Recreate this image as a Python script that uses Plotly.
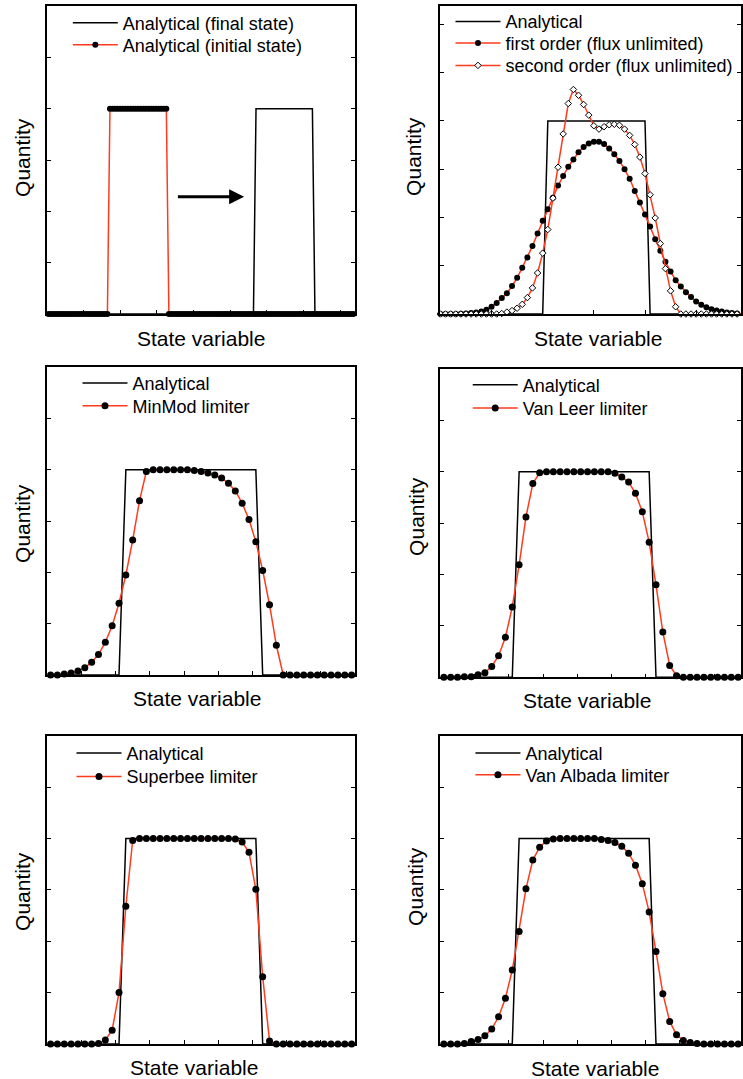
import plotly.graph_objects as go

W, H = 743, 1079
RED = "rgb(255,59,30)"
FONT = "Liberation Sans, Arial, Helvetica, sans-serif"

# ---------------- data ----------------
# Panel 1: analytical initial / final state on a fine grid
P1_X0, P1_DX = 0.035, 0.07
P1_INITIAL = [
    0, 0, 0, 0, 0, 0, 0, 0, 0, 0, 0, 0, 0, 0, 0, 0, 0, 0, 0, 0,
    0, 0, 0, 0, 4, 4, 4, 4, 4, 4, 4, 4, 4, 4, 4, 4, 4, 4, 4, 4,
    4, 4, 4, 4, 4, 4, 4, 0, 0, 0, 0, 0, 0, 0, 0, 0, 0, 0, 0, 0,
    0, 0, 0, 0, 0, 0, 0, 0, 0, 0, 0, 0, 0, 0, 0, 0, 0, 0, 0, 0,
    0, 0, 0, 0, 0, 0, 0, 0, 0, 0, 0, 0, 0, 0, 0, 0, 0, 0, 0, 0,
    0, 0, 0, 0, 0, 0, 0, 0, 0, 0, 0, 0, 0, 0, 0, 0, 0, 0, 0, 0,
]
P1_FINAL = [
    0, 0, 0, 0, 0, 0, 0, 0, 0, 0, 0, 0, 0, 0, 0, 0, 0, 0, 0, 0,
    0, 0, 0, 0, 0, 0, 0, 0, 0, 0, 0, 0, 0, 0, 0, 0, 0, 0, 0, 0,
    0, 0, 0, 0, 0, 0, 0, 0, 0, 0, 0, 0, 0, 0, 0, 0, 0, 0, 0, 0,
    0, 0, 0, 0, 0, 0, 0, 0, 0, 0, 0, 0, 0, 0, 0, 0, 0, 0, 0, 0,
    0, 4, 4, 4, 4, 4, 4, 4, 4, 4, 4, 4, 4, 4, 4, 4, 4, 4, 4, 4,
    4, 4, 4, 4, 0, 0, 0, 0, 0, 0, 0, 0, 0, 0, 0, 0, 0, 0, 0, 0,
]

# Panel 2: flux unlimited schemes
P2_X0, P2_DX = 0.0, 0.1
P2_ANALYTICAL = [
    0, 0, 0, 0, 0, 0, 0, 0, 0, 0, 0, 0, 0, 0, 0, 0, 0, 0, 0, 0,
    0, 4, 4, 4, 4, 4, 4, 4, 4, 4, 4, 4, 4, 4, 4, 4, 4, 4, 4, 4,
    4, 0, 0, 0, 0, 0, 0, 0, 0, 0, 0, 0, 0, 0, 0, 0, 0, 0, 0, 0,
]
P2_FIRST = [
    0, 0, 0, 0, 0.005, 0.01, 0.02, 0.03, 0.05, 0.09,
    0.15, 0.23, 0.33, 0.43, 0.58, 0.75, 0.96, 1.17, 1.41, 1.67,
    1.93, 2.17, 2.41, 2.66, 2.86, 3.05, 3.20, 3.35, 3.46, 3.53,
    3.57, 3.57, 3.52, 3.43, 3.31, 3.17, 3.00, 2.80, 2.55, 2.31,
    2.06, 1.81, 1.55, 1.31, 1.08, 0.88, 0.70, 0.57, 0.45, 0.35,
    0.26, 0.19, 0.14, 0.10, 0.07, 0.05, 0.03, 0.02, 0.01, 0.01,
]
P2_SECOND = [
    0, 0, 0, 0, 0, 0, 0, 0, 0, 0,
    0, 0, 0.01, 0.04, 0.07, 0.12, 0.20, 0.34, 0.54, 0.85,
    1.26, 1.75, 2.40, 3.04, 3.73, 4.36, 4.65, 4.53, 4.34, 4.12,
    3.90, 3.83, 3.88, 3.92, 3.93, 3.91, 3.83, 3.70, 3.51, 3.25,
    2.91, 2.47, 1.99, 1.46, 0.94, 0.48, 0.15, 0, 0, 0,
    0, 0, 0, 0, 0, 0, 0, 0, 0, 0,
]

# Panels 3-6: limiter schemes on a 45-cell grid
CELL_X0, CELL_DX = 0.5, 1.0
LIM_ANALYTICAL = [
    0, 0, 0, 0, 0, 0, 0, 0, 0, 0, 0, 4, 4, 4, 4,
    4, 4, 4, 4, 4, 4, 4, 4, 4, 4, 4, 4, 4, 4, 4,
    4, 0, 0, 0, 0, 0, 0, 0, 0, 0, 0, 0, 0, 0, 0,
]
MINMOD = [
    0, 0, 0.02, 0.04, 0.08, 0.14, 0.25, 0.40, 0.64, 0.96, 1.40, 1.95, 2.63, 3.40, 3.97,
    4.0, 4.0, 4.0, 4.0, 4.0, 4.0, 3.99, 3.97, 3.94, 3.90, 3.84, 3.74, 3.59, 3.35, 3.03,
    2.60, 2.04, 1.37, 0.58, 0, 0, 0, 0, 0, 0, 0, 0, 0, 0, 0,
]
VANLEER = [
    0, 0, 0, 0.01, 0.01, 0.05, 0.09, 0.21, 0.42, 0.78, 1.37, 2.19, 3.12, 3.77, 3.98,
    4.0, 4.0, 4.0, 4.0, 4.0, 4.0, 4.0, 4.0, 4.0, 4.0, 3.97, 3.90, 3.80, 3.58, 3.22,
    2.63, 1.80, 0.88, 0.23, 0.03, 0, 0, 0, 0, 0, 0, 0, 0, 0, 0,
]
SUPERBEE = [
    0, 0, 0, 0, 0, 0, 0, 0.01, 0.08, 0.27, 1.00, 2.68, 3.96, 4.0, 4.0,
    4.0, 4.0, 4.0, 4.0, 4.0, 4.0, 4.0, 4.0, 4.0, 4.0, 4.0, 4.0, 3.99, 3.93, 3.73,
    3.01, 1.31, 0.06, 0, 0, 0, 0, 0, 0, 0, 0, 0, 0, 0, 0,
]
VANALBADA = [
    0, 0, 0, 0.01, 0.05, 0.09, 0.16, 0.29, 0.53, 0.89, 1.44, 2.19, 3.02, 3.58, 3.83,
    3.95, 3.99, 4.0, 4.0, 4.0, 4.0, 4.0, 4.0, 3.98, 3.96, 3.92, 3.85, 3.71, 3.48, 3.12,
    2.57, 1.80, 0.98, 0.44, 0.18, 0.07, 0.03, 0.01, 0, 0, 0, 0, 0, 0, 0,
]

# ---------------- layout geometry (pixels) ----------------
LEFT_X = (47.3, 356.0)
RIGHT_X = (441.6, 743.0)
ROWS_L = [(6.0, 314.0), (367.3, 675.0), (735.7, 1044.0)]
ROWS_R = [(6.0, 314.0), (369.0, 677.3), (735.7, 1044.0)]

def xd(px):
    return [px[0] / W, px[1] / W]

def yd(py):
    return [1 - py[1] / H, 1 - py[0] / H]

fig = go.Figure()
legend_count = [0]

def next_legend():
    legend_count[0] += 1
    n = legend_count[0]
    return "legend" if n == 1 else f"legend{n}"

def line_trace(y, x0, dx, name, xa, ya):
    return go.Scatter(y=y, x0=x0, dx=dx, mode="lines", name=name, showlegend=True,
                      line=dict(color="black", width=1.5),
                      xaxis=xa, yaxis=ya, legend=next_legend(), cliponaxis=False)

def num_trace(y, x0, dx, name, xa, ya, size=7, symbol="circle", fill="black"):
    return go.Scatter(y=y, x0=x0, dx=dx, mode="lines+markers", name=name, showlegend=True,
                      line=dict(color=RED, width=1.5),
                      marker=dict(symbol=symbol, size=size, color=fill,
                                  line=dict(color="black", width=1 if fill != "black" else 0)),
                      xaxis=xa, yaxis=ya, legend=next_legend(), cliponaxis=False)

# Panel 1
fig.add_trace(line_trace(P1_FINAL, P1_X0, P1_DX, "Analytical (final state)", "x", "y"))
fig.add_trace(num_trace(P1_INITIAL, P1_X0, P1_DX, "Analytical (initial state)", "x", "y", size=6))
# Panel 2
fig.add_trace(line_trace(P2_ANALYTICAL, P2_X0, P2_DX, "Analytical", "x2", "y2"))
fig.add_trace(num_trace(P2_FIRST, P2_X0, P2_DX, "first order (flux unlimited)", "x2", "y2", size=6))
fig.add_trace(num_trace(P2_SECOND, P2_X0, P2_DX, "second order (flux unlimited)", "x2", "y2",
                        size=5, symbol="diamond", fill="white"))
# Panels 3-6
for k, (vals, label) in enumerate([(MINMOD, "MinMod limiter"), (VANLEER, "Van Leer limiter"),
                                   (SUPERBEE, "Superbee limiter"), (VANALBADA, "Van Albada limiter")]):
    n = k + 3
    fig.add_trace(line_trace(LIM_ANALYTICAL, CELL_X0, CELL_DX, "Analytical", f"x{n}", f"y{n}"))
    fig.add_trace(num_trace(vals, CELL_X0, CELL_DX, label, f"x{n}", f"y{n}", size=7))

axis_common = dict(showgrid=False, zeroline=False, showline=True, linecolor="black", linewidth=1.5,
                   ticks="inside", ticklen=4, tickwidth=1.2, tickcolor="black",
                   showticklabels=False, fixedrange=True)

panels = [
    # (n, xdom, ydom, xrange, xticks, yrange, yticks)
    (1, LEFT_X, ROWS_L[0], [0, 8.41], [1, 2, 3, 4, 5, 6, 7, 8], [0, 6], [1, 2, 3, 4, 5]),
    (2, RIGHT_X, ROWS_R[0], [0, 5.877], [1, 2, 3, 4, 5], [0, 6.38], [1, 2, 3, 4, 5, 6]),
    (3, LEFT_X, ROWS_L[1], [0, 45], [5, 10, 15, 20, 25, 30, 35, 40], [0, 6], [1, 2, 3, 4, 5]),
    (4, RIGHT_X, ROWS_R[1], [0, 43.92], [5, 10, 15, 20, 25, 30, 35, 40], [0, 6], [1, 2, 3, 4, 5]),
    (5, LEFT_X, ROWS_L[2], [0, 45], [5, 10, 15, 20, 25, 30, 35, 40], [0, 6], [1, 2, 3, 4, 5]),
    (6, RIGHT_X, ROWS_R[2], [0, 43.92], [5, 10, 15, 20, 25, 30, 35, 40], [0, 6], [1, 2, 3, 4, 5]),
]
for n, xpx, ypx, xr, xt, yr, yt in panels:
    sfx = "" if n == 1 else str(n)
    fig.update_layout(**{
        f"xaxis{sfx}": dict(axis_common, domain=xd(xpx), range=xr, tickvals=xt, mirror=True,
                            anchor=f"y{sfx}"),
        f"yaxis{sfx}": dict(axis_common, domain=yd(ypx), range=yr, tickvals=yt, mirror="ticks",
                            anchor=f"x{sfx}"),
    })

# One legend entry per trace: (text start px, row centre px)
LEGEND_POS = [
    (123, 23), (123, 45),
    (506.7, 21.7), (506.7, 43.3), (506.7, 65.7),
    (132.7, 383.3), (132.7, 406),
    (524, 385), (524, 408.3),
    (126.7, 753.3), (126.7, 776.7),
    (526.7, 753.3), (526.7, 775),
]
ITEM_W = 45
for n, (tx, ty) in enumerate(LEGEND_POS, start=1):
    key = "legend" if n == 1 else f"legend{n}"
    fig.update_layout(**{key: dict(x=(tx - ITEM_W - 10) / W, y=1 - ty / H, xanchor="left", yanchor="middle",
                                   bgcolor="rgba(0,0,0,0)", borderwidth=0, itemwidth=ITEM_W,
                                   font=dict(family=FONT, size=18, color="black"))})

# Axis titles (centre positions in px)
XTITLES = [(202, 336), (599.5, 336.5), (197.5, 696), (588.3, 698), (194.2, 1065), (596.2, 1066.5)]
YTITLES = [(22.5, 157.5), (414, 156), (22, 523), (417, 516), (22, 891), (416, 886)]
ann = []
for (tx, ty) in XTITLES:
    ann.append(dict(text="State variable", x=tx / W, y=1 - (ty + 2) / H, xref="paper", yref="paper",
                    xanchor="center", yanchor="middle", showarrow=False,
                    font=dict(family=FONT, size=21, color="black")))
for (tx, ty) in YTITLES:
    ann.append(dict(text="Quantity", x=tx / W, y=1 - ty / H, xref="paper", yref="paper",
                    xanchor="center", yanchor="middle", textangle=-90, showarrow=False,
                    font=dict(family=FONT, size=21, color="black")))
# Arrow in panel 1 (advection direction)
ARROW_TAIL, ARROW_HEAD, ARROW_LEVEL = 3.53, 5.38, 2.285
ann.append(dict(text="", x=ARROW_HEAD, y=ARROW_LEVEL, ax=ARROW_TAIL, ay=ARROW_LEVEL,
                xref="x", yref="y", axref="x", ayref="y", showarrow=True,
                arrowhead=2, arrowsize=1, arrowwidth=3, arrowcolor="black"))

fig.update_layout(width=W, height=H, margin=dict(l=0, r=0, t=0, b=0), showlegend=True,
                  paper_bgcolor="white", plot_bgcolor="white", annotations=ann,
                  font=dict(family=FONT, color="black"))

fig.write_html("out.html")
